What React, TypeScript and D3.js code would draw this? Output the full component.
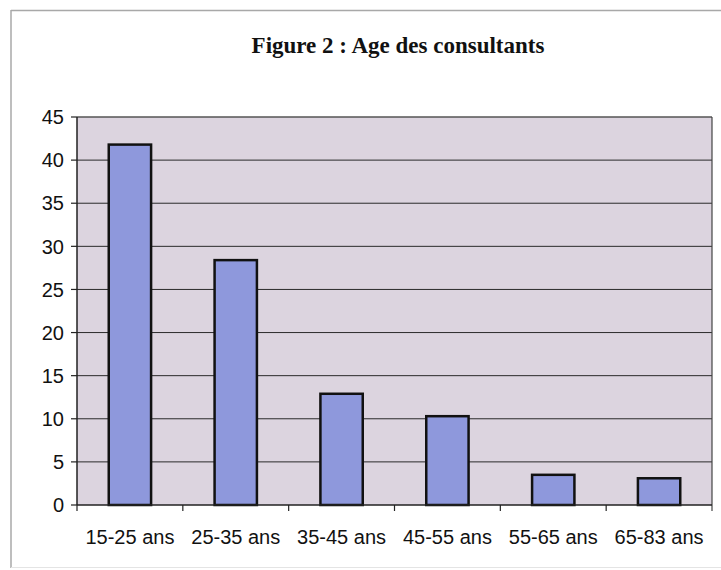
import React from "react";
import * as d3 from "d3";

const categories = ["15-25 ans", "25-35 ans", "35-45 ans", "45-55 ans", "55-65 ans", "65-83 ans"];
const values = [41.8, 28.4, 12.9, 10.3, 3.5, 3.1];
const yTicks = [0, 5, 10, 15, 20, 25, 30, 35, 40, 45];
const title = "Figure 2 : Age des consultants";

export default function App() {
  const W = 721, H = 570;
  const left = 77, right = 712, top = 117, bottom = 505;
  const x = d3.scaleBand().domain(categories).range([left, right]).paddingInner(0.6).paddingOuter(0.3);
  const xb = d3.scaleBand().domain(categories).range([left, right]);
  const y = d3.scaleLinear().domain([0, 45]).range([bottom, top]);
  return (
    <svg width={W} height={H} style={{ position: "absolute", left: 0, top: 0, background: "#fff" }}>
      {/* outer frame */}
      <line x1={11} y1={10.5} x2={721} y2={10.5} stroke="#a8a8a8" strokeWidth={1.5} />
      <line x1={11} y1={10} x2={11} y2={568} stroke="#a8a8a8" strokeWidth={1.5} />
      <line x1={11} y1={567.5} x2={721} y2={567.5} stroke="#e4e4e4" strokeWidth={1} />
      <text x={398} y={53} textAnchor="middle" fontFamily="'Liberation Serif', 'Times New Roman', serif" fontWeight="bold" fontSize={23} fill="#111">{title}</text>
      {/* plot area */}
      <rect x={left} y={top} width={right - left} height={bottom - top} fill="#dcd4df" />
      {yTicks.filter(t => t > 0 && t < 45).map(t => (
        <line key={t} x1={left} x2={right} y1={y(t)} y2={y(t)} stroke="#2a2a2a" strokeWidth={1} />
      ))}
      <line x1={left} x2={right} y1={top} y2={top} stroke="#555" strokeWidth={1.5} />
      <line x1={right} x2={right} y1={top} y2={bottom + 6} stroke="#444" strokeWidth={1.2} />
      {categories.map((c, i) => (
        <rect key={c} x={x(c)} y={y(values[i])} width={x.bandwidth()} height={bottom - y(values[i])}
          fill="#8e98dc" stroke="#111" strokeWidth={2.5} />
      ))}
      {/* axes */}
      <line x1={left} x2={left} y1={top} y2={bottom} stroke="#222" strokeWidth={1.5} />
      <line x1={left} x2={right} y1={bottom} y2={bottom} stroke="#222" strokeWidth={1.5} />
      {yTicks.map(t => (
        <g key={t}>
          <line x1={left - 6} x2={left} y1={y(t)} y2={y(t)} stroke="#222" strokeWidth={1.2} />
          <text x={64} y={y(t)} dy="0.36em" textAnchor="end" fontFamily="'Liberation Sans', Arial, sans-serif" fontSize={20} fill="#111">{t}</text>
        </g>
      ))}
      {categories.map((c) => (
        <line key={"t" + c} x1={xb(c)!} x2={xb(c)!} y1={bottom} y2={bottom + 6} stroke="#222" strokeWidth={1.2} />
      ))}
      {categories.map(c => (
        <text key={"l" + c} x={xb(c)! + xb.bandwidth() / 2} y={544} textAnchor="middle" fontFamily="'Liberation Sans', Arial, sans-serif" fontSize={20} fill="#111">{c}</text>
      ))}
    </svg>
  );
}
